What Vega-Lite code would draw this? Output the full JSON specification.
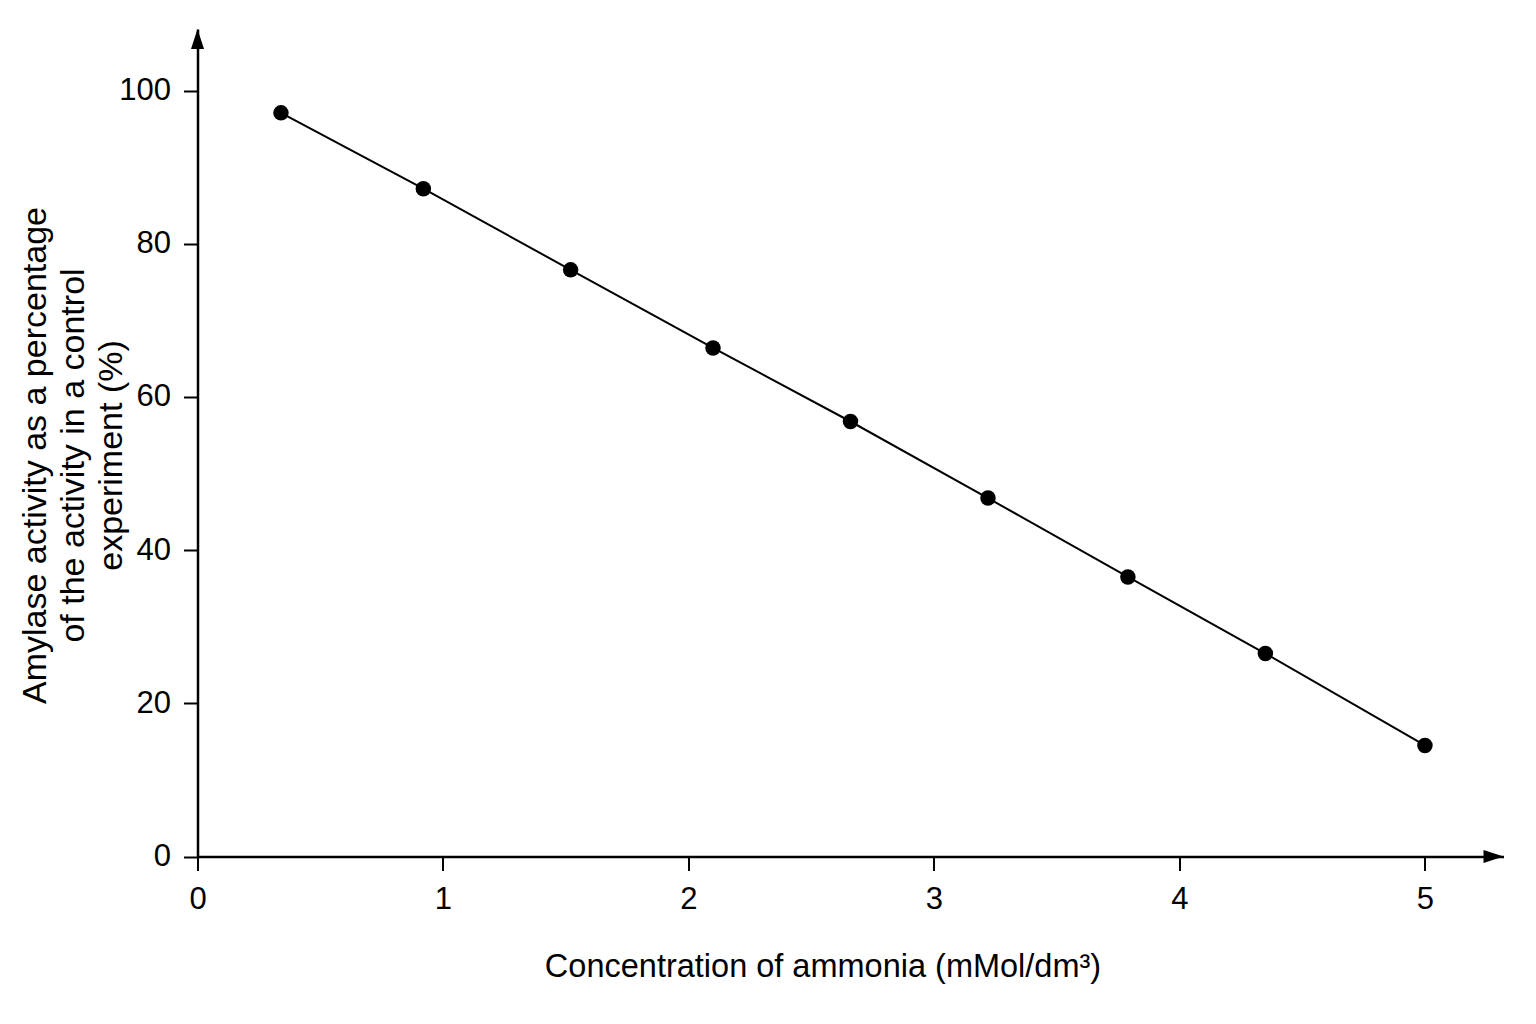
{
  "$schema": "https://vega.github.io/schema/vega-lite/v6.json",
  "description": "Amylase activity against ammonia concentration.",
  "autosize": {"type": "none"},
  "width": 1306,
  "height": 827.5,
  "padding": {"left": 197.5, "top": 29, "right": 32.5, "bottom": 167.5},
  "background": "white",
  "config": {
    "view": {"stroke": null},
    "axis": {
      "grid": false,
      "labelFlush": false,
      "domainColor": "black",
      "domainWidth": 2.5,
      "tickColor": "black",
      "tickWidth": 2,
      "tickSize": 14,
      "labelFont": "Liberation Sans",
      "labelFontSize": 31,
      "labelColor": "black",
      "titleFont": "Liberation Sans",
      "titleFontWeight": "normal",
      "titleColor": "black"
    }
  },
  "data": {
    "values": [
      {"ammonia": 0.34, "activity": 97.1},
      {"ammonia": 0.92, "activity": 87.2},
      {"ammonia": 1.52, "activity": 76.6},
      {"ammonia": 2.1, "activity": 66.4},
      {"ammonia": 2.66, "activity": 56.8},
      {"ammonia": 3.22, "activity": 46.8},
      {"ammonia": 3.79, "activity": 36.5},
      {"ammonia": 4.35, "activity": 26.5},
      {"ammonia": 5.0, "activity": 14.5}
    ]
  },
  "encoding": {
    "x": {
      "field": "ammonia",
      "type": "quantitative",
      "scale": {"domain": [0, 5.32], "nice": false},
      "axis": {
        "title": "Concentration of ammonia (mMol/dm³)",
        "values": [0, 1, 2, 3, 4, 5],
        "labelPadding": 14,
        "titleFontSize": 32.5,
        "titleX": 625,
        "titleY": 120,
        "titleAlign": "center",
        "titleBaseline": "alphabetic"
      }
    },
    "y": {
      "field": "activity",
      "type": "quantitative",
      "scale": {"domain": [0, 108.05], "nice": false},
      "axis": {
        "title": ["Amylase activity as a percentage", "of the activity in a control", "experiment (%)"],
        "values": [0, 20, 40, 60, 80, 100],
        "labelPadding": 13,
        "titleFontSize": 34,
        "titleLineHeight": 38,
        "titleAngle": -90,
        "titleX": -152.5,
        "titleY": 426,
        "titleAlign": "center",
        "titleBaseline": "alphabetic"
      }
    }
  },
  "layer": [
    {"mark": {"type": "line", "color": "black", "strokeWidth": 2}},
    {"mark": {"type": "point", "filled": true, "color": "black", "opacity": 1, "size": 240}},
    {
      "data": {"values": [{"ammonia": 0, "activity": 108.05}]},
      "mark": {"type": "point", "filled": true, "color": "black", "opacity": 1, "size": 400, "shape": "M0,0L0.65,2L-0.65,2Z"}
    },
    {
      "data": {"values": [{"ammonia": 5.32, "activity": 0}]},
      "mark": {"type": "point", "filled": true, "color": "black", "opacity": 1, "size": 400, "shape": "M0,0L-2,-0.65L-2,0.65Z"}
    }
  ]
}
